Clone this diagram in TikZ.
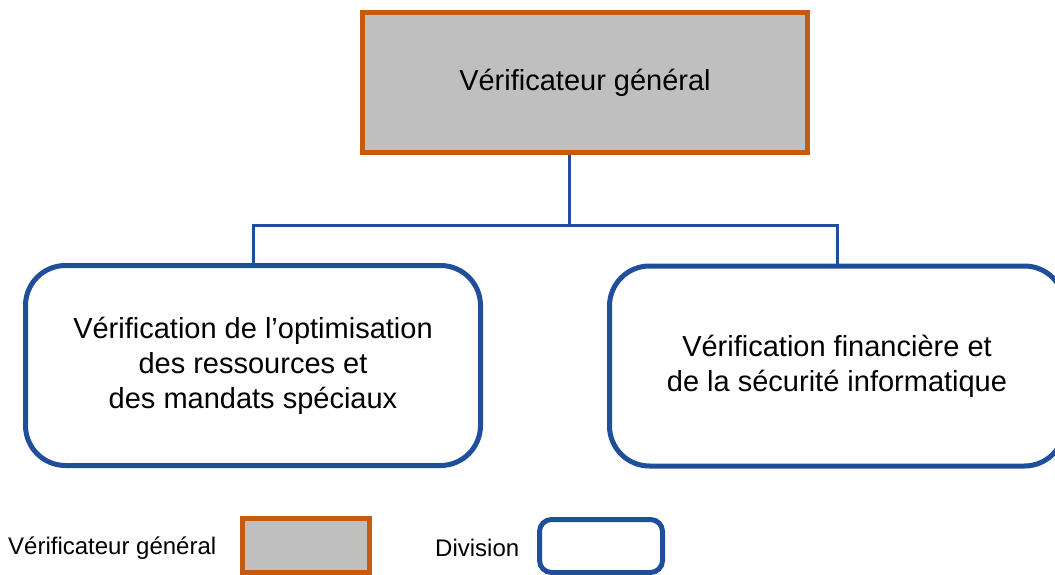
\documentclass[tikz,border=0pt]{standalone}
\usepackage{fontspec}
\setmainfont{Liberation Sans}
\definecolor{orng}{HTML}{C55A11}
\definecolor{blu}{HTML}{1F4E9A}
\definecolor{gry}{HTML}{BFBFBF}
\begin{document}
\begin{tikzpicture}[x=1pt,y=-1pt,
  vgbox/.style={draw=orng, fill=gry, line width=5pt, inner sep=0pt},
  divbox/.style={draw=blu, fill=white, line width=5pt, rounded corners=40pt, inner sep=0pt},
  conn/.style={draw=blu, line width=3pt},
  bigtxt/.style={font=\fontsize{29}{35}\selectfont, align=center},
  smalltxt/.style={font=\fontsize{24}{29}\selectfont, inner sep=0pt}]
\useasboundingbox (0,0) rectangle (1055,575);

\node[vgbox, bigtxt, minimum width=445pt, minimum height=140pt] (vg) at (585,82.5) {Vérificateur général};

\node[divbox, bigtxt, minimum width=455pt, minimum height=200pt] (left) at (253,365.5)
  {Vérification de l’optimisation\\des ressources et\\des mandats spéciaux};
\node[divbox, bigtxt, minimum width=455pt, minimum height=200pt] (right) at (837,366)
  {Vérification financière et\\de la sécurité informatique};

\coordinate (vgout) at ([xshift=-16pt]vg.south);
\draw[conn] (vgout) -- (vgout |- 0,225) -| (left.north);
\draw[conn] (vgout |- 0,225) -| (right.north);

% legend
\node[smalltxt, anchor=west] (lg1) at (8,548) {Vérificateur général};
\node[vgbox, minimum width=127pt, minimum height=53.5pt] (lgbox1) at (306,545.25) {};
\node[smalltxt, anchor=west] (lg2) at (435,548) {Division};
\node[divbox, rounded corners=12pt, minimum width=123pt, minimum height=53pt] (lgbox2) at (601,546) {};
\end{tikzpicture}
\end{document}
